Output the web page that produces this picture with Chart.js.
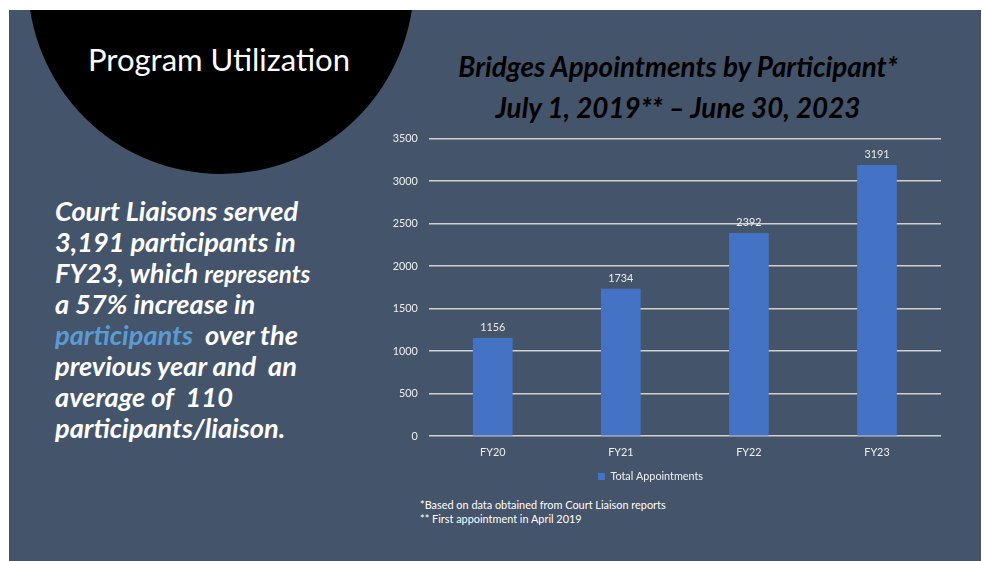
<!DOCTYPE html>
<html>
<head>
<meta charset="utf-8">
<script src="https://cdn.jsdelivr.net/npm/chart.js@4.4.1/dist/chart.umd.min.js"></script>
<style>
  html, body { margin: 0; padding: 0; background: #ffffff; }
  body { width: 982px; height: 561px; position: relative; overflow: hidden; font-family: Lato, "Open Sans", sans-serif; }
  .slide { position: absolute; left: 9px; top: 10px; width: 972px; height: 551px; background: #44546a; overflow: hidden; }
  .circle { position: absolute; left: 19px; top: -222px; width: 386px; height: 386px; border-radius: 50%; background: #000; }
  .heading { position: absolute; left: 0; top: 30px; width: 420px; text-align: center; color: #fff; font-size: 31px; }
  .blurb { position: absolute; left: 46px; top: 186px; color: #fff; font-weight: bold; font-style: italic; font-size: 27.2px; line-height: 30.8px; white-space: nowrap; }
  .blurb .small { font-size: 24.2px; }
  .blurb .hl { color: #5b9bd5; }
  .title { position: absolute; left: 369px; top: 36px; width: 600px; text-align: center; color: #000; font-weight: bold; font-style: italic; font-size: 27.8px; line-height: 41px; }
  .notes { position: absolute; left: 411px; top: 488px; color: #fff; font-size: 10.9px; line-height: 14px; }
  #chart-wrap { position: absolute; left: 351px; top: 110px; width: 600px; height: 372px; }
</style>
</head>
<body>
<div class="slide">
  <div class="circle"></div>
  <div class="heading">Program Utilization</div>
  <div class="blurb">
    Court Liaisons served<br>
    3,191 participants in<br>
    FY23, which <span class="small">represents</span><br>
    a 57% increase in<br>
    <span class="hl">participants</span>&nbsp; over the<br>
    previous year and &nbsp;an<br>
    average of &nbsp;110<br>
    participants/liaison.
  </div>
  <div class="title">Bridges Appointments by Participant*<br>July 1, 2019** – June 30, 2023</div>
  <div class="notes">*Based on data obtained from Court Liaison reports<br>** First appointment in April 2019</div>
  <div id="chart-wrap"><canvas id="bars"></canvas></div>
</div>
<script>
// 各财年数据
const fiscalYears = ['FY20', 'FY21', 'FY22', 'FY23'];
const totalAppointments = [1156, 1734, 2392, 3191];
const yTicks = [0, 500, 1000, 1500, 2000, 2500, 3000, 3500];

const FONT = 'Lato, "Open Sans", sans-serif';

// 柱顶数值标签
const valueLabels = {
  id: 'valueLabels',
  afterDatasetsDraw(chart) {
    const ctx = chart.ctx;
    ctx.save();
    ctx.font = '10.8px ' + FONT;
    ctx.fillStyle = '#ececec';
    ctx.textAlign = 'center';
    ctx.textBaseline = 'bottom';
    chart.getDatasetMeta(0).data.forEach((bar, i) => {
      ctx.fillText(String(chart.data.datasets[0].data[i]), bar.x, bar.y - 5);
    });
    ctx.restore();
  }
};

new Chart(document.getElementById('bars'), {
  type: 'bar',
  data: {
    labels: fiscalYears,
    datasets: [{
      label: 'Total Appointments',
      data: totalAppointments,
      backgroundColor: '#4472c4',
      borderWidth: 0,
      barPercentage: 0.31,
      categoryPercentage: 1
    }]
  },
  options: {
    responsive: true,
    maintainAspectRatio: false,
    animation: false,
    layout: { padding: { top: 18.7, right: 19, left: 0, bottom: 0 } },
    plugins: {
      legend: {
        position: 'bottom',
        labels: {
          color: '#f0f0f0',
          boxWidth: 7,
          boxHeight: 7,
          padding: 6,
          font: { size: 10.8, family: FONT }
        }
      },
      tooltip: { enabled: false }
    },
    scales: {
      x: {
        afterFit: (scale) => { scale.height = 29; },
        grid: { display: false, drawTicks: false },
        border: { display: false },
        ticks: {
          color: '#f0f0f0',
          padding: 10,
          font: { size: 10.8, family: FONT }
        }
      },
      y: {
        min: 0,
        max: 3500,
        afterFit: (scale) => { scale.width = 68.7; },
        afterBuildTicks: (scale) => { scale.ticks = yTicks.map(v => ({ value: v })); },
        grid: { color: '#d0d0d0', lineWidth: 1.5, drawTicks: false },
        border: { display: false },
        ticks: {
          color: '#f0f0f0',
          padding: 11,
          font: { size: 10.8, family: FONT },
          callback: (v) => String(v)
        }
      }
    }
  },
  plugins: [valueLabels]
});
</script>
</body>
</html>
